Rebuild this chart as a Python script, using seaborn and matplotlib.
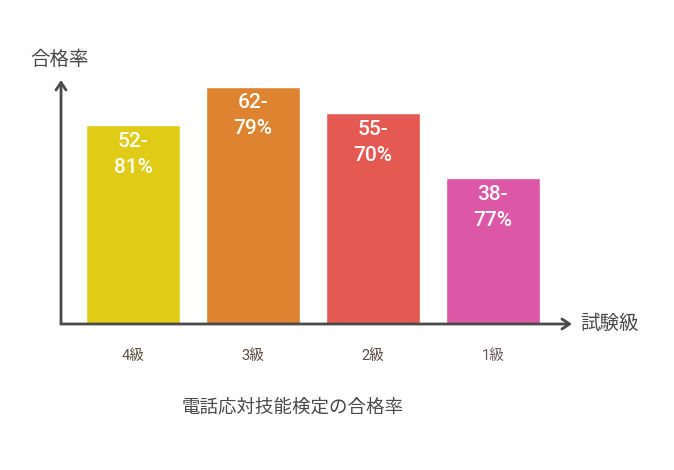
import matplotlib
matplotlib.use("Agg")
import matplotlib.pyplot as plt
import seaborn as sns
import pandas as pd

categories = ["4級", "3級", "2級", "1級"]
low_values = [52, 62, 55, 38]
high_values = [81, 79, 70, 77]
bar_labels = ["52-\n81%", "62-\n79%", "55-\n70%", "38-\n77%"]
bar_colors = ["#E0CB17", "#DE8430", "#E45A53", "#DC58A7"]
tick_colors = ["#5C5640", "#5E4C40", "#5E4A4A", "#6E5A66"]
title = "電話応対技能検定の合格率"
x_label = "試験級"
y_label = "合格率"

sns.set_theme(style="white")
plt.rcParams["font.family"] = ["Roboto", "Noto Sans CJK JP", "DejaVu Sans"]

df = pd.DataFrame({"cat": categories, "val": low_values})

fig = plt.figure(figsize=(6.74, 4.70), dpi=100)
ax = fig.add_axes([61 / 674, (470 - 324) / 470, 511 / 674, 244 / 470])

sns.barplot(data=df, x="cat", y="val", hue="cat", palette=bar_colors,
            legend=False, width=0.78, saturation=1, ax=ax)

ax.set_xlim(-0.6, 3.66)
ax.set_ylim(0, 63.7)
for s in ax.spines.values():
    s.set_visible(False)
ax.set_yticks([])
ax.set_xlabel("")
ax.set_ylabel("")
ax.tick_params(axis="x", length=0, pad=18, labelsize=10.5)
for lbl, c in zip(ax.get_xticklabels(), tick_colors):
    lbl.set_color(c)

axis_color = "#4A4A4A"
ax.annotate("", xy=(0, 1.0), xytext=(0, 0), xycoords="axes fraction",
            arrowprops=dict(arrowstyle="->,head_length=0.45,head_width=0.3",
                            color=axis_color, lw=2, shrinkA=0, shrinkB=0),
            annotation_clip=False)
ax.annotate("", xy=(1.0, 0), xytext=(0, 0), xycoords="axes fraction",
            arrowprops=dict(arrowstyle="->,head_length=0.45,head_width=0.3",
                            color=axis_color, lw=2, shrinkA=0, shrinkB=0),
            annotation_clip=False)

fig.text(580 / 674, 1 - 324 / 470, x_label, ha="left", va="center",
         fontsize=14, color=axis_color)
fig.text(30 / 674, 1 - 60 / 470, y_label, ha="left", va="center",
         fontsize=14, color=axis_color)
fig.text(293 / 674, 1 - 408 / 470, title, ha="center", va="center",
         fontsize=13.3, color=axis_color)

for i, (v, lab) in enumerate(zip(low_values, bar_labels)):
    ax.annotate(lab, xy=(i, v), xytext=(0, -5), textcoords="offset points",
                ha="center", va="top", fontsize=15, fontweight="medium",
                color="white", linespacing=1.45)

fig.savefig("out.png", dpi=100, facecolor="white")
